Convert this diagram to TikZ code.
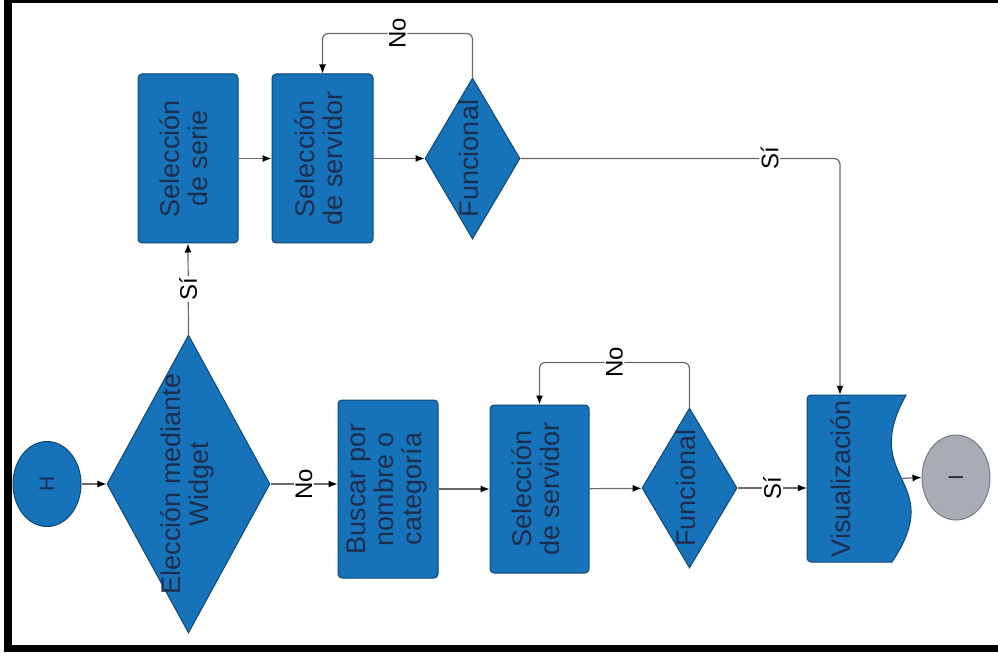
\documentclass[tikz,border=0pt]{standalone}
\usepackage{graphicx}
\usepackage{fontspec}
\setmainfont{Liberation Sans}
\usetikzlibrary{shapes.geometric,arrows.meta,backgrounds,calc}
\definecolor{boxblue}{RGB}{22,115,186}
\definecolor{boxedge}{RGB}{14,70,115}
\definecolor{txtc}{RGB}{28,45,78}
\definecolor{linec}{RGB}{105,105,105}
\definecolor{endgray}{RGB}{168,172,180}
\definecolor{endedge}{RGB}{118,123,130}
\newcommand{\vtxt}[1]{\rotatebox{90}{\begin{tabular}{@{}c@{}}#1\end{tabular}}}
\begin{document}
\begin{tikzpicture}[x=1pt,y=-1pt,
  font=\fontsize{27}{28}\selectfont,
  base/.style={fill=boxblue, draw=boxedge, line width=1pt, text=txtc, inner sep=0pt},
  proc/.style={base, rectangle, rounded corners=4pt},
  dec/.style={base, diamond},
  term/.style={base, ellipse, font=\fontsize{21}{22}\selectfont},
  intext/.style={text=txtc, inner sep=0pt},
  flow/.style={draw=linec, line width=1.2pt, -{Latex[length=9pt,width=7pt,color=black]}},
  lbl/.style={fill=white, inner sep=1.5pt, rotate=90, text=black, font=\fontsize{24}{24}\selectfont}
]
\useasboundingbox (0,0) rectangle (998,660);
% frame
\fill[black] (4,0) rectangle (12,652);
\fill[black] (4,0) rectangle (998,3);
\fill[black] (4,645) rectangle (998,652);

% upper row
\node[proc, minimum width=100pt, minimum height=169pt] (sser) at (188,158.5) {\vtxt{Selección\\de serie}};
\node[proc, minimum width=101pt, minimum height=169pt] (ss1) at (322.5,158.5) {\vtxt{Selección\\de servidor}};
\node[dec, minimum width=95pt, minimum height=161pt,
      label={[intext]center:\vtxt{Funcional}}] (f1) at (472.5,158.5) {};

% lower row
\node[term, minimum width=68pt, minimum height=85pt] (h) at (47,484) {\rotatebox{90}{H}};
\node[dec, minimum width=163pt, minimum height=298pt,
      label={[intext]center:\vtxt{Elección mediante\\Widget}}] (e) at (188.5,484) {};
\node[proc, minimum width=100pt, minimum height=178pt] (bus) at (388,489) {\vtxt{Buscar por\\nombre o\\categoría}};
\node[proc, minimum width=99pt, minimum height=168pt] (ss2) at (539.5,489) {\vtxt{Selección\\de servidor}};
\node[dec, minimum width=95pt, minimum height=160pt,
      label={[intext]center:\vtxt{Funcional}}] (f2) at (689.5,488) {};
\node[rectangle, inner sep=0pt, minimum width=99pt, minimum height=167pt,
      label={[intext, xshift=-11.5pt]center:\vtxt{Visualización}}] (vis) at (856.5,478.5) {};
\begin{scope}[on background layer]
  \fill[white] (0,0) rectangle (998,660);
  \path[fill=boxblue, draw=boxedge, line width=1pt]
    (807,480) -- (807,399) arc[start angle=180, end angle=270, radius=4]
    -- (906,395) .. controls (858,482) and (948,478) .. (892,562)
    -- (811,562) arc[start angle=90, end angle=180, radius=4] -- cycle;
\end{scope}
\node[ellipse, fill=endgray, draw=endedge, line width=1pt, inner sep=0pt,
      minimum width=68pt, minimum height=85pt, text=black!80,
      font=\fontsize{21}{22}\selectfont] (iend) at (956,477.5) {\rotatebox{90}{I}};

% connectors
\draw[flow] (h) -- (e);
\draw[flow] (e.north) -- node[lbl]{Sí} (sser.south);
\draw[flow] (sser) -- (ss1);
\draw[flow] (ss1) -- (f1);
\draw[flow, rounded corners=6pt] (f1.north) -- ++(0,-44) -| node[lbl, pos=0.25]{No} (ss1.north);
\draw[flow, rounded corners=6pt] (f1.east) -| node[lbl, pos=0.39]{Sí} ([xshift=-16.5pt]vis.north);
\draw[flow] (e.east) -- node[lbl]{No} (e.east -| bus.west);
\draw[flow] (bus) -- (ss2);
\draw[flow] (ss2) -- (f2);
\draw[flow, rounded corners=6pt] (f2.north) -- ++(0,-45) -| node[lbl, pos=0.25]{No} (ss2.north);
\draw[flow] (f2.east) -- node[lbl]{Sí} (f2.east -| vis.west);
\draw[flow] ([xshift=-5pt]vis.east) -- (iend.west);
\end{tikzpicture}
\end{document}
